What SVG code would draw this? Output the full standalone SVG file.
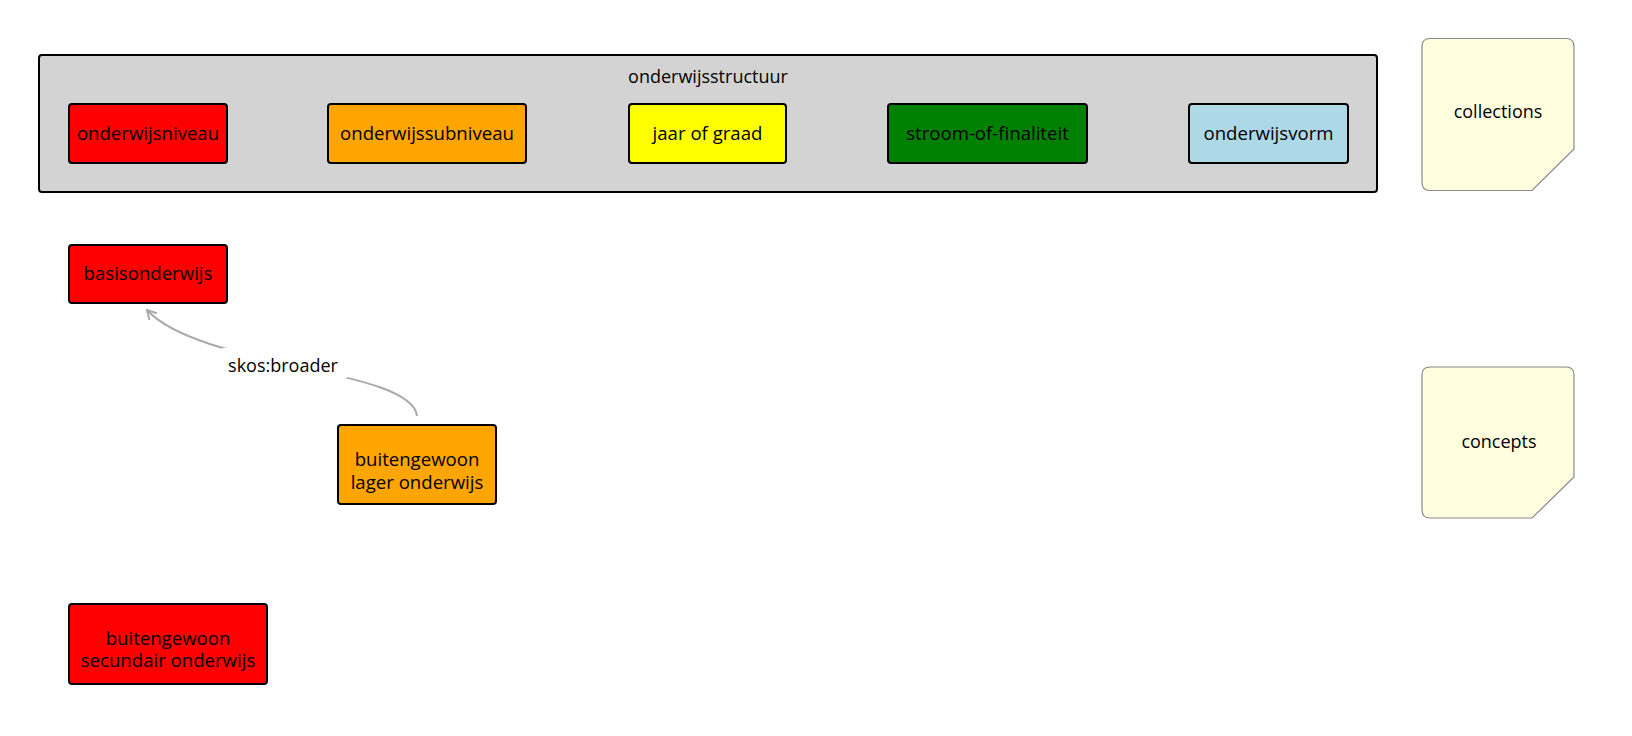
<svg xmlns="http://www.w3.org/2000/svg" width="1632" height="736" viewBox="0 0 1632 736">
<defs>
<style>
text{font-family:"Open Sans","Noto Sans","Liberation Sans",sans-serif;font-size:18px;fill:#000;text-anchor:middle}
.node{stroke:#000;stroke-width:2}
.nt{font-size:18.6px}
.note{fill:#ffffe0;stroke:#888;stroke-width:1.2}
.edge{fill:none;stroke:#aaa;stroke-width:2}
</style>
<marker id="arr" viewBox="0 0 12 12" refX="10" refY="6" markerWidth="12" markerHeight="12" markerUnits="userSpaceOnUse" orient="auto">
<path d="M1,1 L10,6 L1,11" fill="none" stroke="#aaa" stroke-width="2"/>
</marker>
</defs>
<rect width="1632" height="736" fill="#fff"/>
<g id="onderwijsstructuur">
<rect x="39" y="55" width="1338" height="137" rx="3" fill="#d3d3d3" stroke="#000" stroke-width="2"/>
<text x="708" y="83">onderwijsstructuur</text>
</g>
<g id="onderwijsniveau">
<rect class="node" x="69" y="104" width="158" height="59" rx="3" fill="#ff0000"/>
<text class="nt" x="148" y="140">onderwijsniveau</text>
</g>
<g id="onderwijssubniveau">
<rect class="node" x="328" y="104" width="198" height="59" rx="3" fill="#ffa500"/>
<text class="nt" x="427" y="140">onderwijssubniveau</text>
</g>
<g id="jaar-of-graad">
<rect class="node" x="629" y="104" width="157" height="59" rx="3" fill="#ffff00"/>
<text class="nt" x="707.5" y="140">jaar of graad</text>
</g>
<g id="stroom-of-finaliteit">
<rect class="node" x="888" y="104" width="199" height="59" rx="3" fill="#008000"/>
<text class="nt" x="987.5" y="140">stroom-of-finaliteit</text>
</g>
<g id="onderwijsvorm">
<rect class="node" x="1189" y="104" width="159" height="59" rx="3" fill="#add8e6"/>
<text class="nt" x="1268.5" y="140">onderwijsvorm</text>
</g>
<g id="basisonderwijs">
<rect class="node" x="69" y="245" width="158" height="58" rx="3" fill="#ff0000"/>
<text class="nt" x="148" y="280">basisonderwijs</text>
</g>
<g id="buitengewoon-lager-onderwijs">
<rect class="node" x="338" y="425" width="158" height="79" rx="3" fill="#ffa500"/>
<text class="nt" x="417" y="466">buitengewoon</text>
<text class="nt" x="417" y="489">lager onderwijs</text>
</g>
<g id="buitengewoon-secundair-onderwijs">
<rect class="node" x="69" y="604" width="198" height="80" rx="3" fill="#ff0000"/>
<text class="nt" x="168" y="645">buitengewoon</text>
<text class="nt" x="168" y="667">secundair onderwijs</text>
</g>
<g id="collections">
<path class="note" d="M1430,38.5 H1566 Q1574,38.5 1574,46.5 V149 L1532,190.5 H1430 Q1422,190.5 1422,182.5 V46.5 Q1422,38.5 1430,38.5 Z"/>
<text x="1498" y="118">collections</text>
</g>
<g id="concepts">
<path class="note" d="M1430,367 H1566 Q1574,367 1574,375 V477 L1532,518 H1430 Q1422,518 1422,510 V375 Q1422,367 1430,367 Z"/>
<text x="1499" y="448">concepts</text>
</g>
<g id="connectors">
<path class="edge" d="M417,416 C412,368 200,368 147,310" marker-end="url(#arr)"/>
<rect x="222" y="348" width="125" height="30" fill="#fff"/>
<text x="283" y="372">skos:broader</text>
</g>
</svg>
